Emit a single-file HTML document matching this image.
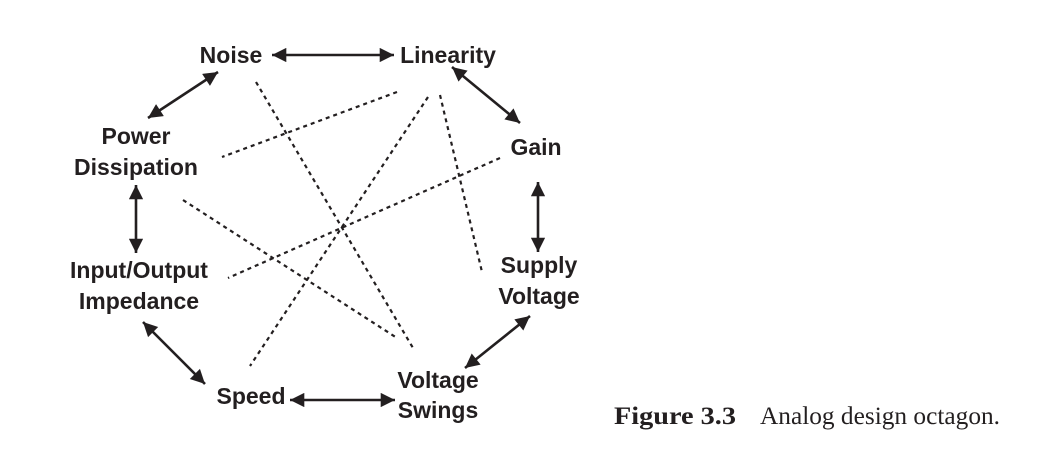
<!DOCTYPE html>
<html><head><style>body{margin:0;background:#fff}svg{display:block}</style></head><body>
<svg width="1039" height="463" viewBox="0 0 1039 463" xmlns="http://www.w3.org/2000/svg">
<defs>
<marker id="a" viewBox="0 0 10 10" refX="10" refY="5" markerWidth="8.5" markerHeight="5.5" orient="auto-start-reverse" markerUnits="strokeWidth"><path d="M0,0 L10,5 L0,10 z" fill="#231f20"/></marker>
</defs>
<g stroke="#231f20" stroke-width="2.2" stroke-dasharray="4,4" fill="none">
<line x1="256" y1="82" x2="413" y2="348"/>
<line x1="397" y1="92" x2="222" y2="157"/>
<line x1="428" y1="97" x2="250" y2="366"/>
<line x1="440" y1="95" x2="482" y2="272"/>
<line x1="500" y1="158" x2="228" y2="278"/>
<line x1="183" y1="200" x2="397" y2="338"/>
</g>
<g stroke="#231f20" stroke-width="2.6" fill="none" marker-start="url(#a)" marker-end="url(#a)">
<line x1="272" y1="55" x2="394" y2="55"/>
<line x1="218" y1="72" x2="148" y2="118"/>
<line x1="452" y1="67" x2="520" y2="123"/>
<line x1="538" y1="182" x2="538" y2="252"/>
<line x1="136" y1="185" x2="136" y2="253"/>
<line x1="530" y1="316" x2="465" y2="368"/>
<line x1="143" y1="322" x2="205" y2="384"/>
<line x1="290" y1="400" x2="395" y2="400"/>
</g>
<g font-family="Liberation Sans, sans-serif" font-weight="bold" font-size="23" fill="#231f20" text-anchor="middle">
<text x="231" y="63">Noise</text>
<text x="448" y="63">Linearity</text>
<text x="536" y="155">Gain</text>
<text x="136" y="144">Power</text>
<text x="136" y="175">Dissipation</text>
<text x="139" y="278">Input/Output</text>
<text x="139" y="309">Impedance</text>
<text x="539" y="273">Supply</text>
<text x="539" y="304">Voltage</text>
<text x="251" y="404">Speed</text>
<text x="438" y="388">Voltage</text>
<text x="438" y="418">Swings</text>
</g>
<g font-family="Liberation Serif, serif" font-size="25" fill="#231f20">
<text x="614" y="424" font-weight="bold" textLength="122" lengthAdjust="spacingAndGlyphs">Figure 3.3</text>
<text x="760" y="424" textLength="240" lengthAdjust="spacingAndGlyphs">Analog design octagon.</text>
</g>
</svg>
</body></html>
